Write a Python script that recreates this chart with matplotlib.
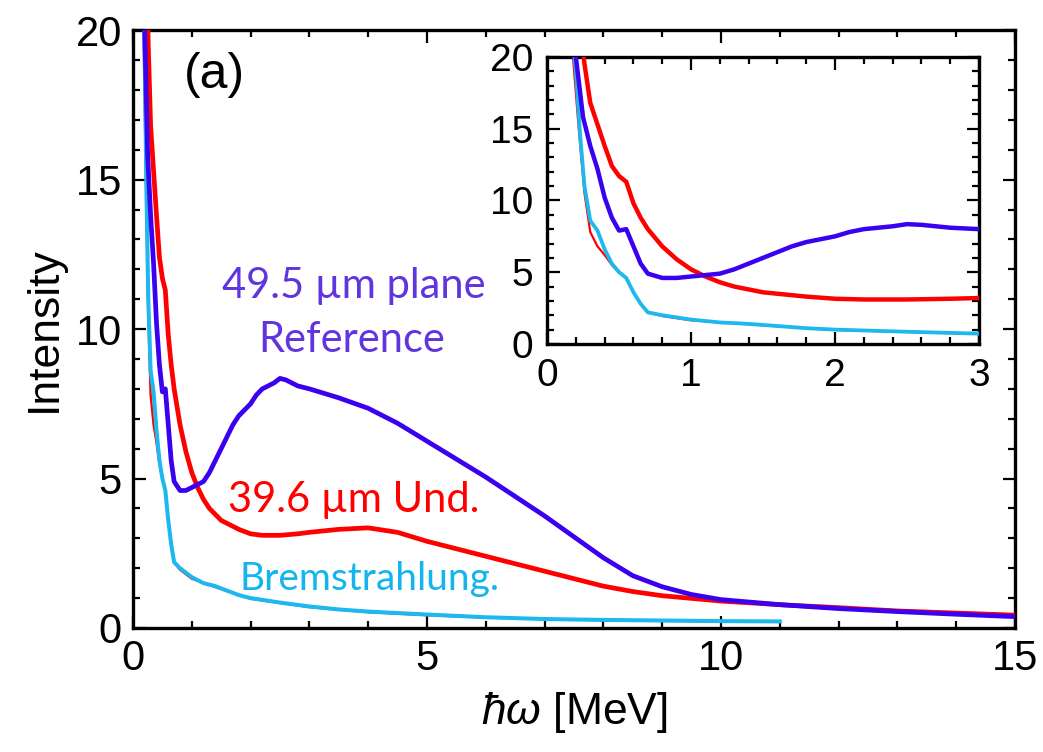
import matplotlib
matplotlib.use('Agg')
import matplotlib.pyplot as plt
from matplotlib.ticker import MultipleLocator

plt.rcParams['font.family'] = ['Liberation Sans', 'DejaVu Sans']
plt.rcParams['mathtext.fontset'] = 'custom'
plt.rcParams['mathtext.it'] = 'Liberation Sans:italic'
plt.rcParams['mathtext.rm'] = 'Liberation Sans'

# 49.5 um plane reference (blue)
blue_x = [0.12, 0.15, 0.2, 0.25, 0.3, 0.35, 0.4, 0.45, 0.5, 0.55, 0.6, 0.65, 0.7, 0.8,
          0.9, 1.0, 1.1, 1.2, 1.3, 1.4, 1.5, 1.6, 1.7, 1.8, 1.9, 2.0, 2.1, 2.2, 2.3, 2.4,
          2.5, 2.6, 2.7, 2.8, 2.9, 3.0, 3.5, 4.0, 4.5, 5.0, 5.5, 6.0, 6.5, 7.0, 7.5, 8.0,
          8.5, 9.0, 9.5, 10.0, 11.0, 12.0, 13.0, 14.0, 15.0]
blue_y = [28, 24, 20, 15.8, 13.8, 12.2, 10.2, 8.8, 7.9, 8.0, 6.8, 5.6, 4.9, 4.6,
          4.6, 4.7, 4.8, 4.9, 5.2, 5.6, 6.0, 6.4, 6.8, 7.1, 7.3, 7.5, 7.8, 8.0, 8.1, 8.2,
          8.35, 8.3, 8.2, 8.1, 8.05, 8.0, 7.7, 7.35, 6.85, 6.25, 5.65, 5.05, 4.4, 3.75, 3.05, 2.35,
          1.75, 1.38, 1.12, 0.95, 0.78, 0.65, 0.55, 0.46, 0.38]

# 39.6 um undulator (red)
red_x = [0.18, 0.22, 0.26, 0.3, 0.35, 0.4, 0.45, 0.5, 0.55, 0.6, 0.65, 0.7, 0.8, 0.9,
         1.0, 1.1, 1.2, 1.3, 1.4, 1.5, 1.6, 1.8, 2.0, 2.2, 2.5, 2.8, 3.0, 3.5, 4.0, 4.5,
         5.0, 5.5, 6.0, 6.5, 7.0, 7.5, 8.0, 8.5, 9.0, 10.0, 11.0, 12.0, 13.0, 14.0, 15.0]
red_y = [28, 23, 19.5, 16.8, 15.3, 13.8, 12.4, 11.7, 11.3, 9.8, 8.8, 8.0, 6.8, 5.9,
         5.2, 4.7, 4.3, 4.0, 3.8, 3.6, 3.5, 3.3, 3.15, 3.1, 3.1, 3.15, 3.2, 3.3, 3.35, 3.2,
         2.9, 2.65, 2.4, 2.15, 1.9, 1.65, 1.4, 1.22, 1.08, 0.9, 0.78, 0.68, 0.57, 0.5, 0.43]

# Bremsstrahlung (cyan) and the thin red trace underneath it
cyan_x = [0.1, 0.14, 0.18, 0.2, 0.23, 0.26, 0.3, 0.35, 0.4, 0.45, 0.5, 0.55, 0.6, 0.65,
          0.7, 0.8, 0.9, 1.0, 1.2, 1.4, 1.6, 1.8, 2.0, 2.5, 3.0, 3.5, 4.0, 5.0, 6.0, 7.0,
          8.0, 9.0, 10.0, 11.0]
cyan_y = [30, 24, 21, 19, 14.5, 11, 8.6, 7.9, 6.6, 5.6, 5.0, 4.6, 3.6, 2.8,
          2.2, 2.0, 1.85, 1.7, 1.5, 1.4, 1.25, 1.1, 1.0, 0.85, 0.72, 0.62, 0.55, 0.45, 0.36, 0.3,
          0.27, 0.25, 0.23, 0.22]
thin_x = [0.1, 0.14, 0.18, 0.22, 0.26, 0.3, 0.35, 0.4, 0.45, 0.5, 0.55, 0.6, 0.65, 0.7,
          0.8, 1.0, 1.5, 2.0, 3.0, 4.0, 5.0, 6.0, 7.0, 8.0, 9.0, 10.0, 11.0]
thin_y = [30, 24, 20, 15, 10.5, 7.8, 6.8, 6.2, 5.5, 5.0, 4.6, 3.6, 2.8, 2.2,
          1.95, 1.65, 1.3, 0.98, 0.7, 0.53, 0.43, 0.35, 0.3, 0.26, 0.24, 0.22, 0.21]

BLUE = '#3a00f0'
RED = '#ff0000'
CYAN = '#1cb8ee'


def draw_curves(ax, lw):
    ax.plot(thin_x, thin_y, color=RED, lw=lw * 0.5, zorder=2)
    ax.plot(cyan_x, cyan_y, color=CYAN, lw=lw * 0.85, zorder=3)
    ax.plot(red_x, red_y, color=RED, lw=lw, zorder=4)
    ax.plot(blue_x, blue_y, color=BLUE, lw=lw, zorder=5)


def style_axes(ax, size, pad):
    for s in ax.spines.values():
        s.set_linewidth(2.4)
    ax.tick_params(which='both', direction='in', top=True, right=True, width=1.6,
                   labelsize=size, pad=pad)
    ax.tick_params(which='major', length=9)
    ax.tick_params(which='minor', length=5)


fig = plt.figure(figsize=(10.43, 7.52), dpi=100)
ax = fig.add_axes([0.1275, 0.1649, 0.8456, 0.795])
draw_curves(ax, 3.4)
ax.set_xlim(0, 15)
ax.set_ylim(0, 20)
ax.xaxis.set_major_locator(MultipleLocator(5))
ax.xaxis.set_minor_locator(MultipleLocator(1))
ax.yaxis.set_major_locator(MultipleLocator(5))
ax.yaxis.set_minor_locator(MultipleLocator(1))
style_axes(ax, 30, 8)
ax.set_ylabel('Intensity', fontsize=32, labelpad=8)
ax.set_xlabel(r'$\mathit{ħω}$ [MeV]', fontsize=32, labelpad=8)

ax.text(1.39, 18.5, '(a)', fontsize=36, ha='center', va='center')
ann = ['Lato', 'DejaVu Sans']
ax.text(3.76, 11.04, '49.5 µm plane', color='#6035e0', fontsize=30, ha='center',
        va='baseline', family=ann)
ax.text(3.72, 9.23, 'Reference', color='#6035e0', fontsize=30, ha='center',
        va='baseline', family=ann)
ax.text(1.62, 3.88, '39.6 µm Und.', color=RED, fontsize=30, ha='left',
        va='baseline', family=ann)
ax.text(1.82, 1.27, 'Bremstrahlung.', color='#14b4ee', fontsize=28, ha='left',
        va='baseline', family=ann)

ins = fig.add_axes([0.5245, 0.5426, 0.4142, 0.3817])
draw_curves(ins, 3.2)
ins.set_xlim(0, 3)
ins.set_ylim(0, 20)
ins.xaxis.set_major_locator(MultipleLocator(1))
ins.xaxis.set_minor_locator(MultipleLocator(0.2))
ins.yaxis.set_major_locator(MultipleLocator(5))
ins.yaxis.set_minor_locator(MultipleLocator(1))
style_axes(ins, 28, 10)

fig.savefig('out.png', dpi=100)
